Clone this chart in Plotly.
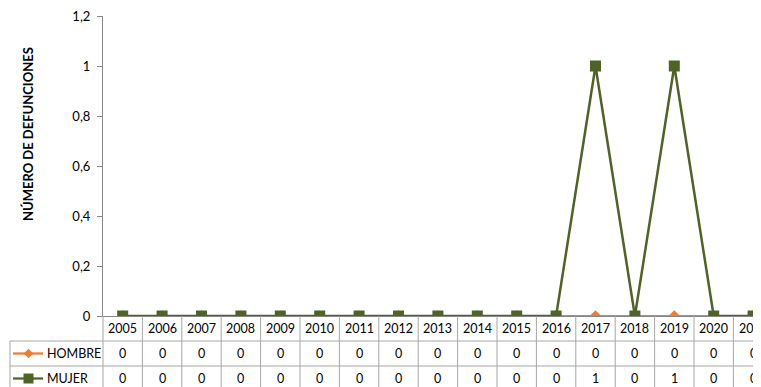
import plotly.graph_objects as go

years = [str(y) for y in range(2005, 2022)]
hombre = [0] * 17
mujer = [0, 0, 0, 0, 0, 0, 0, 0, 0, 0, 0, 0, 1, 0, 1, 0, 0]
series_names = ["HOMBRE", "MUJER"]
y_title = "NÚMERO DE DEFUNCIONES"

ORANGE = "#ED7D31"
GREEN = "#4F6228"
GRID = "#A6A6A6"
FONT = "Lato"

OFF = 8  # browser body margin
W, H = 761 - OFF, 387 - OFF
L, T = 103 - OFF, 16 - OFF
PW, PH = W - L, 300
COLW = 39.4

def px(x):  # reference pixel x -> paper
    return (x - OFF - L) / PW

def py(y):  # reference pixel y -> paper
    return (T + PH - (y - OFF)) / PH

xs = list(range(len(years)))
fig = go.Figure()
fig.add_trace(go.Scatter(x=xs, y=hombre, mode="lines+markers", name=series_names[0],
                         line=dict(color=ORANGE, width=2.25),
                         marker=dict(symbol="diamond", size=9, color=ORANGE)))
fig.add_trace(go.Scatter(x=xs, y=mujer, mode="lines+markers", name=series_names[1],
                         line=dict(color=GREEN, width=2.5),
                         marker=dict(symbol="square", size=11, color=GREEN)))

shapes = []
ann = []
n = len(years)
for k in range(n + 1):
    xpx = 103 + k * COLW
    shapes.append(dict(type="line", xref="paper", yref="paper", x0=px(xpx), x1=px(xpx),
                       y0=py(316), y1=py(400), line=dict(color=GRID, width=1)))
for ypix in [341, 366]:
    shapes.append(dict(type="line", xref="paper", yref="paper", x0=px(10), x1=px(103 + n * COLW),
                       y0=py(ypix), y1=py(ypix), line=dict(color=GRID, width=1)))
shapes.append(dict(type="line", xref="paper", yref="paper", x0=px(10), x1=px(10),
                   y0=py(341), y1=py(400), line=dict(color=GRID, width=1)))

for i, yr in enumerate(years):
    ann.append(dict(x=i, y=py(328.5), xref="x", yref="paper", text=yr, showarrow=False,
                    font=dict(size=12.5, color="#000000", family=FONT), xanchor="center", yanchor="middle"))
for row_y, vals in [(353.5, hombre), (378.5, mujer)]:
    for i, v in enumerate(vals):
        ann.append(dict(x=i, y=py(row_y), xref="x", yref="paper", text=str(v), showarrow=False,
                        font=dict(size=12.5, color="#000000", family=FONT), xanchor="center", yanchor="middle"))

for (row_y, name, col, sym) in [(353.5, series_names[0], ORANGE, "diamond"), (378.5, series_names[1], GREEN, "square")]:
    shapes.append(dict(type="line", xref="paper", yref="paper", x0=px(13), x1=px(43),
                       y0=py(row_y), y1=py(row_y), line=dict(color=col, width=2.25)))
    cx, cy = 28.5, row_y
    if sym == "diamond":
        d = 4.8
        path = "M {} {} L {} {} L {} {} L {} {} Z".format(
            px(cx - d), py(cy), px(cx), py(cy - d), px(cx + d), py(cy), px(cx), py(cy + d))
        shapes.append(dict(type="path", xref="paper", yref="paper", path=path,
                           fillcolor=col, line=dict(color=col, width=0)))
    else:
        s = 5
        shapes.append(dict(type="rect", xref="paper", yref="paper", x0=px(cx - s), x1=px(cx + s),
                           y0=py(cy + s), y1=py(cy - s), fillcolor=col, line=dict(color=col, width=0)))
    ann.append(dict(x=px(45), y=py(row_y), xref="paper", yref="paper", text=name, showarrow=False,
                    font=dict(size=12.5, color="#000000", family=FONT), xanchor="left", yanchor="middle"))

ann.append(dict(x=px(28), y=py(134), xref="paper", yref="paper", text="<b>" + y_title + "</b>",
                showarrow=False, textangle=-90, font=dict(size=13, color="#000000", family=FONT),
                xanchor="center", yanchor="middle"))

fig.update_layout(
    width=W, height=H,
    margin=dict(l=L, r=0, t=T, b=H - T - PH, pad=0),
    paper_bgcolor="white", plot_bgcolor="white",
    showlegend=False,
    separators=",.",
    font=dict(family=FONT, size=12.5, color="#000000"),
    shapes=shapes, annotations=ann,
)
fig.update_xaxes(range=[-0.5, -0.5 + PW / COLW], showticklabels=False, showgrid=False, zeroline=False,
                 showline=True, linecolor="#868686", linewidth=1, ticks="")
fig.update_yaxes(range=[0, 1.2], dtick=0.2, showgrid=False, zeroline=False, showline=True,
                 linecolor="#868686", linewidth=1, ticks="outside", ticklen=5, tickcolor="#868686",
                 ticklabelstandoff=4, automargin=False, ticklabeloverflow="allow",
                 tickfont=dict(size=13, color="#000000", family=FONT))

fig.write_html("out.html")
